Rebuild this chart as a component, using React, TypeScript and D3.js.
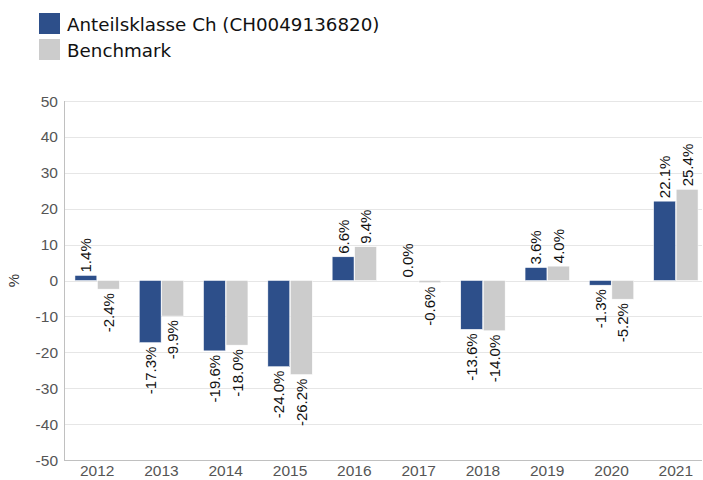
import React from "react";
import * as d3 from "d3";

const years = ["2012", "2013", "2014", "2015", "2016", "2017", "2018", "2019", "2020", "2021"];
const fundValues = [1.4, -17.3, -19.6, -24.0, 6.6, 0.0, -13.6, 3.6, -1.3, 22.1];
const benchValues = [-2.4, -9.9, -18.0, -26.2, 9.4, -0.6, -14.0, 4.0, -5.2, 25.4];
const seriesNames = ["Anteilsklasse Ch (CH0049136820)", "Benchmark"];
const seriesColors = ["#2d4f8a", "#cccccc"];
const yTicks = [50, 40, 30, 20, 10, 0, -10, -20, -30, -40, -50];

const W = 703;
const H = 480;
const plotLeft = 64;
const plotRight = 702;

export default function App() {
  const y = d3.scaleLinear().domain([-50, 50]).range([460, 101]);
  const x = d3.scaleBand<string>().domain(years).range([65, 708]).paddingInner(0.31).paddingOuter(0.155);
  const inner = d3.scaleBand<number>().domain([0, 1]).range([0, x.bandwidth()]).paddingInner(0.03);
  const series = [fundValues, benchValues];
  const fmt = (v: number) => v.toFixed(1) + "%";
  const labelFont = "Liberation Sans, Arial, sans-serif";

  return (
    <svg width={W} height={H} style={{ position: "absolute", left: 0, top: 0, background: "#fff" }}>
      {seriesNames.map((n, i) => (
        <g key={n}>
          <rect x={39} y={13 + i * 26} width={21} height={21} fill={seriesColors[i]} />
          <text x={67} y={31 + i * 26} fontFamily="DejaVu Sans, Verdana, sans-serif" fontSize={18.3} fill="#111">
            {n}
          </text>
        </g>
      ))}
      {yTicks.map((t) => (
        <line key={t} x1={plotLeft} x2={plotRight} y1={Math.round(y(t)) + 0.5} y2={Math.round(y(t)) + 0.5} stroke="#e6e6e6" strokeWidth={1} />
      ))}
      {yTicks.map((t) => (
        <text key={"l" + t} x={58} y={y(t) + 5.5} textAnchor="end" fontFamily={labelFont} fontSize={15.5} fill="#555">
          {t}
        </text>
      ))}
      <text transform={`translate(19,${y(0)}) rotate(-90)`} textAnchor="middle" fontFamily={labelFont} fontSize={15} fill="#333">
        %
      </text>
      {series.map((vals, si) =>
        vals.map((v, i) => {
          const bx = (x(years[i]) as number) + (inner(si) as number);
          const bw = inner.bandwidth();
          const y0 = y(0);
          const y1 = y(v);
          return (
            <rect
              key={si + "-" + i}
              x={bx}
              y={Math.min(y0, y1)}
              width={bw}
              height={Math.abs(y1 - y0)}
              fill={seriesColors[si]}
              stroke="#fff"
              strokeWidth={0.5}
            />
          );
        })
      )}
      <line x1={plotLeft + 0.5} x2={plotLeft + 0.5} y1={101} y2={460} stroke="#c0c0c0" />
      <line x1={plotLeft} x2={plotRight} y1={460.5} y2={460.5} stroke="#c0c0c0" />
      {series.map((vals, si) =>
        vals.map((v, i) => {
          const cx = (x(years[i]) as number) + (inner(si) as number) + inner.bandwidth() / 2;
          const pos = v >= 0;
          const ly = pos ? y(v) - 3 : y(v) + 4;
          return (
            <text
              key={"v" + si + "-" + i}
              transform={`translate(${cx + 5.5},${ly}) rotate(-90)`}
              textAnchor={pos ? "start" : "end"}
              fontFamily={labelFont}
              fontSize={15}
              fill="#111"
            >
              {fmt(v)}
            </text>
          );
        })
      )}
      {years.map((yr) => (
        <text key={yr} x={(x(yr) as number) + x.bandwidth() / 2} y={476} textAnchor="middle" fontFamily={labelFont} fontSize={15.5} fill="#555">
          {yr}
        </text>
      ))}
    </svg>
  );
}
